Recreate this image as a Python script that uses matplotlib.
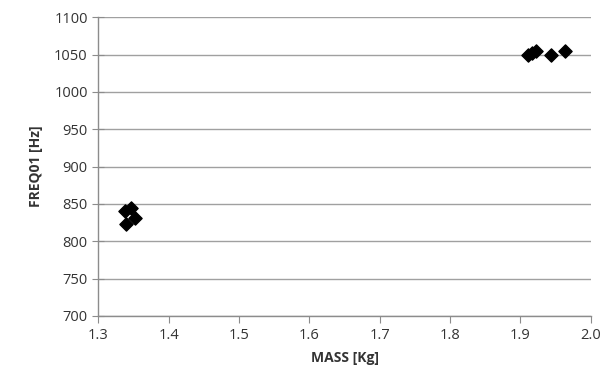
import matplotlib
matplotlib.use('Agg')
import matplotlib.pyplot as plt

plt.rcParams['font.family'] = ['Open Sans', 'DejaVu Sans']

mass = [1.338, 1.346, 1.353, 1.340, 1.911, 1.916, 1.922, 1.943, 1.963]
freq = [840, 844, 831, 823, 1049, 1052, 1055, 1050, 1055]

x_ticks = [1.3, 1.4, 1.5, 1.6, 1.7, 1.8, 1.9, 2.0]
x_labels = ['1.3', '1.4', '1.5', '1.6', '1.7', '1.8', '1.9', '2.0']
y_ticks = list(range(700, 1101, 50))

fig = plt.figure(figsize=(6.06, 3.82), dpi=100)
ax = fig.add_axes([0.162, 0.173, 0.813, 0.782])

ax.scatter(mass, freq, marker='D', s=45, color='black', zorder=3)

ax.set_xlim(1.3, 2.0)
ax.set_ylim(700, 1100)
ax.set_xticks(x_ticks)
ax.set_xticklabels(x_labels)
ax.set_yticks(y_ticks)
ax.yaxis.grid(True, color='#a0a0a0', linewidth=1)
ax.set_axisbelow(True)

for s in ['top', 'right']:
    ax.spines[s].set_visible(False)
for s in ['left', 'bottom']:
    ax.spines[s].set_color('#8c8c8c')
    ax.spines[s].set_linewidth(1)
ax.tick_params(axis='both', colors='#8c8c8c', labelcolor='#333333', labelsize=10.5, length=5)
ax.tick_params(axis='y', direction='inout', length=8)

ax.set_xlabel('MASS [Kg]', fontsize=10, fontweight='bold', color='#333333', labelpad=6)
ax.set_ylabel('FREQ01 [Hz]', fontsize=10, fontweight='bold', color='#333333', labelpad=8)

fig.savefig('out.png', dpi=100)
